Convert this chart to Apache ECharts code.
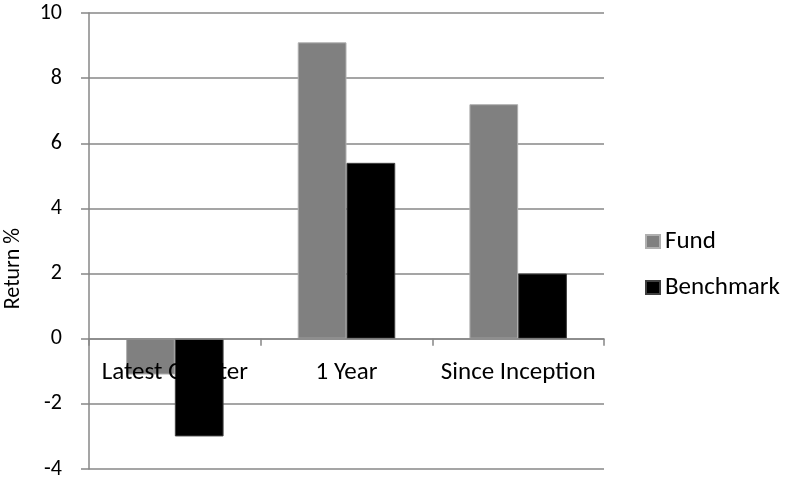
<!DOCTYPE html>
<html>
<head>
<meta charset="utf-8">
<script src="https://cdn.jsdelivr.net/npm/echarts@6/dist/echarts.min.js"></script>
<style>
  html, body { margin: 0; padding: 0; background: #fff; }
  #chart { width: 787px; height: 483px; }
</style>
</head>
<body>
<div id="chart"></div>
<script>
// Return by period, in percent
const categories = ['Latest Quarter', '1 Year', 'Since Inception'];
const fundValues = [-1.1, 9.1, 7.2];
const benchmarkValues = [-3.0, 5.4, 2.0];
const seriesNames = ['Fund', 'Benchmark'];
const axisTitle = 'Return %';

// Value axis range
const yMin = -4, yMax = 10, yStep = 2;

const FONT = 'Carlito, Lato, sans-serif';
const GRID_GREY = '#878787';
const GRID = { left: 89, top: 13, width: 515, height: 456 };

// The category axis sits on the zero line: shift it up from the grid bottom
const zeroOffset = -((0 - yMin) / (yMax - yMin)) * GRID.height;

const chart = echarts.init(document.getElementById('chart'));
chart.setOption({
  animation: false,
  textStyle: { fontFamily: FONT },
  grid: Object.assign({ outerBoundsMode: 'none', containLabel: false }, GRID),
  legend: {
    orient: 'vertical',
    left: 640, top: 224,
    itemWidth: 14, itemHeight: 13, itemGap: 21,
    icon: 'rect',
    textStyle: { fontFamily: FONT, fontSize: 25, color: '#000', padding: [0, 0, 0, 0] },
    data: seriesNames
  },
  graphic: [{
    type: 'text',
    left: 2, top: 228,
    rotation: Math.PI / 2,
    style: { text: axisTitle, fontFamily: FONT, fontSize: 22, fill: '#000' }
  }],
  xAxis: {
    type: 'category',
    data: categories,
    z: 5,
    offset: zeroOffset,
    axisLine: { onZero: false, lineStyle: { color: GRID_GREY, width: 1.5 } },
    axisTick: { show: true, length: 7, lineStyle: { color: GRID_GREY, width: 1.5 } },
    axisLabel: { fontFamily: FONT, fontSize: 25, color: '#000', margin: 22, interval: 0, hideOverlap: false },
    splitLine: { show: false }
  },
  yAxis: {
    type: 'value',
    min: yMin, max: yMax, interval: yStep,
    axisLine: { show: true, lineStyle: { color: GRID_GREY, width: 1.5 } },
    axisTick: { show: true, length: 8, lineStyle: { color: GRID_GREY, width: 1.5 } },
    axisLabel: { fontFamily: FONT, fontSize: 22, color: '#000', margin: 27 },
    splitLine: { show: true, lineStyle: { color: GRID_GREY, width: 1.5 } }
  },
  series: [
    {
      name: seriesNames[0], type: 'bar', data: fundValues,
      barWidth: '28.4%', barGap: '0%',
      itemStyle: { color: '#808080', borderColor: '#b0b0b0', borderWidth: 1 }
    },
    {
      name: seriesNames[1], type: 'bar', data: benchmarkValues,
      barWidth: '28.4%', barGap: '0%',
      itemStyle: { color: '#000000', borderColor: '#404040', borderWidth: 1 }
    }
  ]
});
</script>
</body>
</html>
